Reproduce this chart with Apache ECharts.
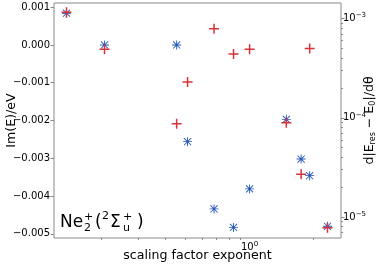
<!DOCTYPE html>
<html><head><meta charset="utf-8">
<script src="https://cdn.jsdelivr.net/npm/echarts@6/dist/echarts.min.js"></script>
<style>html,body{margin:0;padding:0;background:#fff}#c{width:382px;height:266px}</style>
</head><body><div id="c"></div>
<script>
// data
const exponents = [0.137, 0.207, 0.453, 0.51, 0.68, 0.84, 1.0, 1.49, 1.75, 1.92, 2.33];
const imE = [0.00084, 0.0000, 0.0000, -0.00256, -0.00434, -0.00483, -0.00381, -0.00197, -0.00302, -0.00346, -0.0048];
const dEdTheta = [1.16e-3, 4.9e-4, 8.7e-5, 2.3e-4, 7.9e-4, 4.4e-4, 4.9e-4, 8.9e-5, 2.7e-5, 5.0e-4, 7.8e-6];
// ticks
const leftTicks = [-0.005, -0.004, -0.003, -0.002, -0.001, 0, 0.001];
const rightMajor = [1e-5, 1e-4, 1e-3];
const rightMinor = [7e-6, 8e-6, 9e-6, 2e-5, 3e-5, 4e-5, 5e-5, 6e-5, 7e-5, 8e-5, 9e-5, 2e-4, 3e-4, 4e-4, 5e-4, 6e-4, 7e-4, 8e-4, 9e-4];
const xMajor = [1];
const xMinor = [0.2, 0.3, 0.4, 0.5, 0.6, 0.7, 0.8, 0.9, 2];

const FONT = 'DejaVu Sans';
const GRAY = '#8a8a8a';
const BLUE = '#2458b8';
const RED = '#d6333b';
const xMin = 0.1196, xMax = 2.698;
const yMin = -0.00511, yMax = 0.00111;
const rMin = Math.pow(10, -5.211), rMax = Math.pow(10, -2.843);

const asterisk = 'path://M0 9L20 9L20 11L0 11Z M9 0L11 0L11 20L9 20Z M1.4 2.8L2.8 1.4L18.6 17.2L17.2 18.6Z M17.2 1.4L18.6 2.8L2.8 18.6L1.4 17.2Z';
const plus = 'path://M0 8.5L20 8.5L20 11.5L0 11.5Z M8.5 0L11.5 0L11.5 20L8.5 20Z';

function powLabel(v) {
  const k = Math.round(Math.log10(v));
  return '10{sup|' + (k < 0 ? '\u2212' + (-k) : String(k)) + '}';
}
const supRich = { sup: { fontSize: 7, fontFamily: FONT, color: '#000', padding: [0, 0, 6, 0] } };

const gridPos = { left: 54, right: 41, top: 3, bottom: 28 };
const chart = echarts.init(document.getElementById('c'));
chart.setOption({
  animation: false,
  backgroundColor: '#fff',
  grid: [
    Object.assign({ show: true, borderColor: GRAY, borderWidth: 1, containLabel: false, outerBoundsMode: 'none' }, gridPos),
    Object.assign({ show: false, containLabel: false, outerBoundsMode: 'none' }, gridPos)
  ],
  xAxis: [
    {
      type: 'log', logBase: 10, min: xMin, max: xMax, gridIndex: 0,
      axisLine: { show: false },
      splitLine: { show: false },
      axisTick: { customValues: xMajor, length: 3.5, lineStyle: { color: GRAY } },
      axisLabel: { customValues: xMajor, formatter: powLabel, rich: supRich, fontSize: 10, fontFamily: FONT, color: '#000', margin: 3 },
      name: 'scaling factor exponent', nameLocation: 'middle', nameGap: 11, nameMoveOverlap: false,
      nameTextStyle: { fontSize: 12.6, fontFamily: FONT, color: '#000' }
    },
    {
      type: 'log', logBase: 10, min: xMin, max: xMax, gridIndex: 1,
      axisLine: { show: false }, splitLine: { show: false },
      axisTick: { customValues: xMinor, length: 2, lineStyle: { color: GRAY } },
      axisLabel: { show: false }
    }
  ],
  yAxis: [
    {
      type: 'value', min: yMin, max: yMax, gridIndex: 0, position: 'left',
      axisLine: { show: false }, splitLine: { show: false },
      axisTick: { customValues: leftTicks, length: 3.5, lineStyle: { color: GRAY } },
      axisLabel: { customValues: leftTicks, fontSize: 10, fontFamily: FONT, color: '#000', margin: 4,
        formatter: v => v.toFixed(3).replace('-', '\u2212').replace('\u22120.000', '0.000') },
      name: 'Im(E)/eV', nameLocation: 'middle', nameRotate: 90, nameGap: 36, nameMoveOverlap: false,
      nameTextStyle: { fontSize: 12.6, fontFamily: FONT, color: '#000' }
    },
    {
      type: 'log', logBase: 10, min: rMin, max: rMax, gridIndex: 0, position: 'right',
      axisLine: { show: false }, splitLine: { show: false },
      axisTick: { customValues: rightMajor, length: 3.5, lineStyle: { color: GRAY } },
      axisLabel: { customValues: rightMajor, formatter: powLabel, rich: supRich, fontSize: 10, fontFamily: FONT, color: '#000', margin: 2 },
      name: 'd|E{sub|res} \u2212 E{sub|0}|/d\u03b8', nameLocation: 'middle', nameRotate: 90, nameGap: 22, nameMoveOverlap: false,
      nameTextStyle: { fontSize: 12.6, fontFamily: FONT, color: '#000',
        rich: { sub: { fontSize: 8, fontFamily: FONT, color: '#000', padding: [6, 0, 0, 0] } } }
    },
    {
      type: 'log', logBase: 10, min: rMin, max: rMax, gridIndex: 1, position: 'right',
      axisLine: { show: false }, splitLine: { show: false },
      axisTick: { customValues: rightMinor, length: 2, lineStyle: { color: GRAY } },
      axisLabel: { show: false }
    }
  ],
  series: [
    {
      type: 'scatter', xAxisIndex: 0, yAxisIndex: 0,
      data: exponents.map((x, i) => [x, imE[i]]),
      symbol: asterisk, symbolSize: 9,
      itemStyle: { color: BLUE, opacity: 1 }
    },
    {
      type: 'scatter', xAxisIndex: 0, yAxisIndex: 1,
      data: exponents.map((x, i) => [x, dEdTheta[i]]),
      symbol: plus, symbolSize: 10,
      itemStyle: { color: RED, opacity: 1 }
    }
  ],
  graphic: [{
    type: 'group', x: 0, y: 0, children: [
      { type: 'text', x: 60, y: 223, style: { text: 'Ne', font: '17px "DejaVu Sans"', fill: '#000', verticalAlign: 'middle' } },
      { type: 'text', x: 84, y: 228, style: { text: '2', font: '11px "DejaVu Sans"', fill: '#000', verticalAlign: 'middle' } },
      { type: 'text', x: 84, y: 217, style: { text: '+', font: '11px "DejaVu Sans"', fill: '#000', verticalAlign: 'middle' } },
      { type: 'text', x: 95, y: 223, style: { text: '(', font: '17px "DejaVu Sans"', fill: '#000', verticalAlign: 'middle' } },
      { type: 'text', x: 102, y: 216, style: { text: '2', font: '11px "DejaVu Sans"', fill: '#000', verticalAlign: 'middle' } },
      { type: 'text', x: 110, y: 223, style: { text: '\u03a3', font: '17px "DejaVu Sans"', fill: '#000', verticalAlign: 'middle' } },
      { type: 'text', x: 123, y: 228, style: { text: 'u', font: '11px "DejaVu Sans"', fill: '#000', verticalAlign: 'middle' } },
      { type: 'text', x: 123, y: 217, style: { text: '+', font: '11px "DejaVu Sans"', fill: '#000', verticalAlign: 'middle' } },
      { type: 'text', x: 137, y: 223, style: { text: ')', font: '17px "DejaVu Sans"', fill: '#000', verticalAlign: 'middle' } }
    ]
  }]
});
</script>
</body></html>
